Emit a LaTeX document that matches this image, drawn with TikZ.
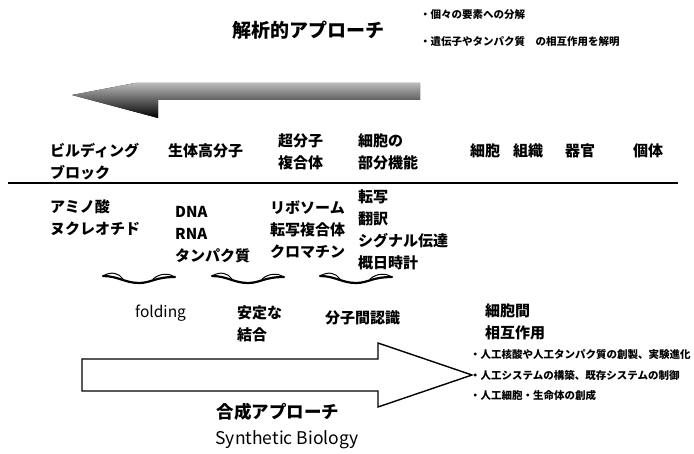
\documentclass[tikz,border=0pt]{standalone}
\usepackage{fontspec}
\setmainfont{Noto Sans CJK JP}
\begin{document}
\begin{tikzpicture}[x=1pt,y=-1pt,
  lbl/.style={anchor=west,inner sep=0pt,align=left,font=\fontsize{15}{22}\selectfont\bfseries},
  lst/.style={anchor=west,inner sep=0pt,align=left,font=\fontsize{15}{22}\selectfont\bfseries},
  small/.style={anchor=west,inner sep=0pt,font=\fontsize{10.5}{12}\selectfont\bfseries},
  big/.style={inner sep=0pt,font=\fontsize{19}{20}\selectfont\bfseries},
  squig/.pic={
    \draw[line width=2.2pt,line cap=round] (0,2) .. controls (15,2) and (22,9) .. (36,9) .. controls (48,9) and (52,3) .. (72,3);
    \draw[line width=1pt] (0,2) .. controls (8,-3) and (16,-1) .. (20,5);
    \draw[line width=1pt] (50,5) .. controls (57,-1) and (66,-1) .. (72,3);
  }]
\useasboundingbox (0,0) rectangle (694,454);
% top
\node[big] (ana) at (308,30) {解析的アプローチ};
\node[small] (b1) at (420,15) {・個々の要素への分解};
\node[small] (b2) at (420,42) {・遺伝子やタンパク質　の相互作用を解明};
\fill[top color=gray!55,bottom color=black] (420,83) -- (420,100) -- (158,100) -- (158,118) -- (72,95) -- (135,83) -- cycle;
% row labels
\node[lbl] (bb) at (50,162) {ビルディング\\ブロック};
\node[lbl] (bio) at (168,151) {生体高分子};
\node[lbl] (sup) at (278,152) {超分子\\複合体};
\node[lbl] (part) at (358,152) {細胞の\\部分機能};
\node[lbl] (cell) at (470,151) {細胞};
\node[lbl] (tis) at (513,151) {組織};
\node[lbl] (org) at (565,151) {器官};
\node[lbl] (ind) at (633,151) {個体};
\coordinate (l1) at (8,183);
\coordinate (l2) at (678,183);
\draw[line width=1.5pt] (l1) -- (l2);
% lists
\node[lst] (am) at (50,218) {アミノ酸\\ヌクレオチド};
\node[lst] (dna) at (175,235) {DNA\\RNA\\タンパク質};
\node[lst] (rib) at (270,230) {リボソーム\\転写複合体\\クロマチン};
\node[lst] (tr) at (358,230) {転写\\翻訳\\シグナル伝達\\概日時計};
\pic at (103,274) {squig};
\pic at (212,274) {squig};
\pic at (320,274) {squig};
% lower labels
\node[anchor=west,inner sep=0pt,font=\fontsize{15.5}{16}\selectfont] (fold) at (135,313) {folding};
\node[lst] (stab) at (237,324) {安定な\\結合};
\node[lst] (mol) at (325,318) {分子間認識};
\node[lst] (cc) at (485,322) {細胞間\\相互作用};
% big arrow
\draw[line width=1.4pt,fill=white] (82,359) -- (378,359) -- (378,343) -- (472,375) -- (378,407) -- (378,391) -- (82,391) -- cycle;
\node[small] (r1) at (470,355) {・人工核酸や人工タンパク質の創製、実験進化};
\node[small] (r2) at (470,375) {・人工システムの構築、既存システムの制御};
\node[small] (r3) at (470,395) {・人工細胞・生命体の創成};
\node[inner sep=0pt,font=\fontsize{17.5}{18}\selectfont\bfseries] (syn) at (278,412) {合成アプローチ};
\node[inner sep=0pt,font=\fontsize{17.5}{18}\selectfont] (sb) at (287,440) {Synthetic Biology};
\end{tikzpicture}
\end{document}
